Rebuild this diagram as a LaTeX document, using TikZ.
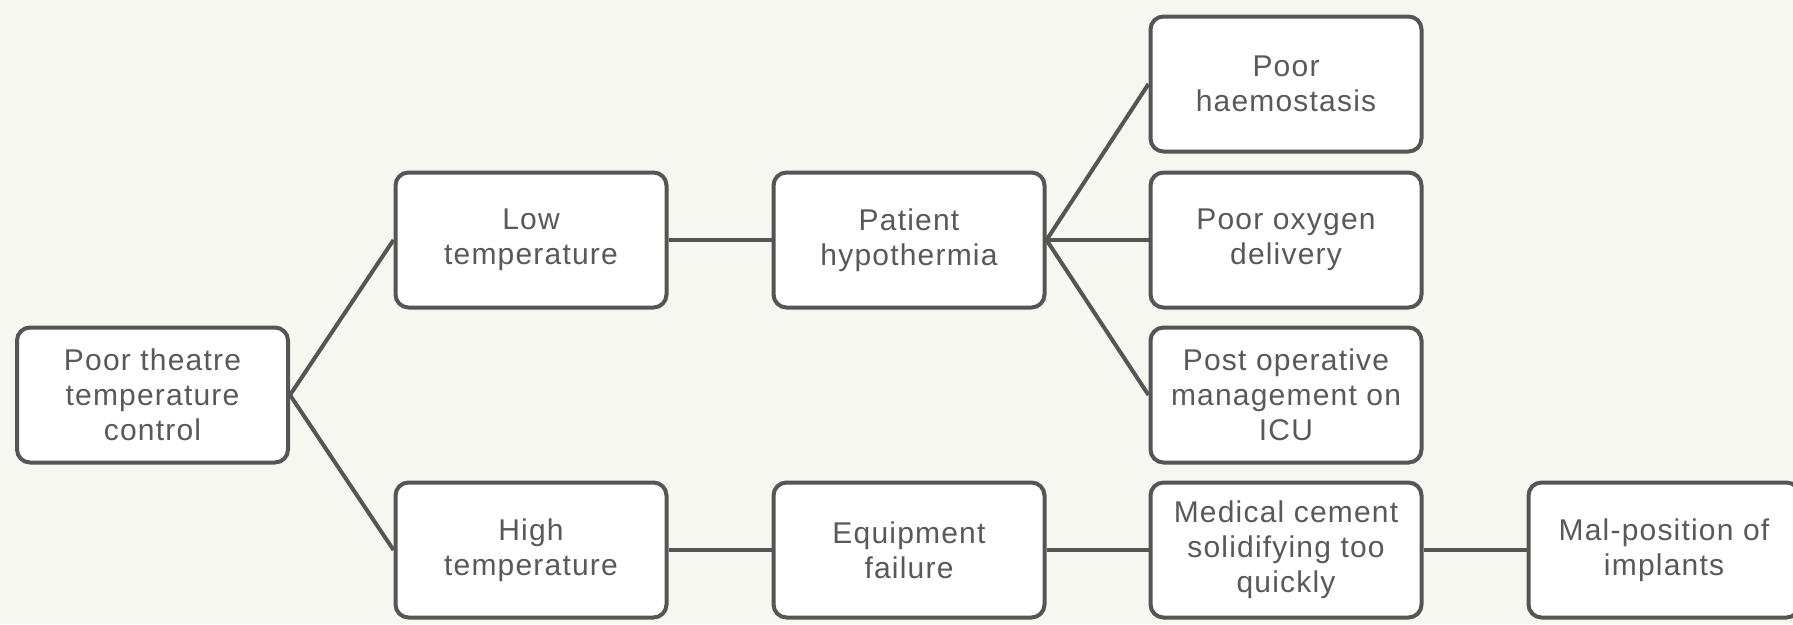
\documentclass[tikz,border=0pt]{standalone}
\usepackage{fontspec}
\setmainfont[LetterSpace=4]{Liberation Sans}
\definecolor{bg}{HTML}{F7F7F2}
\definecolor{edge}{HTML}{555555}
\definecolor{txt}{HTML}{595959}
\tikzset{
  box/.style={draw=edge, line width=4pt, fill=white, rounded corners=13pt,
    minimum width=271pt, minimum height=135pt, inner sep=0pt, align=center,
    text=txt, font=\fontsize{30}{35}\selectfont},
  link/.style={draw=edge, line width=4pt}
}
\begin{document}
\begin{tikzpicture}[x=1pt,y=-1pt]
\fill[bg] (0,0) rectangle (1793,624);
\useasboundingbox (0,0) rectangle (1793,624);
\node[box] (root) at (152.5,395) {Poor theatre\\temperature\\control};
\node[box] (low) at (531,240) {Low\\temperature};
\node[box] (high) at (531,550) {High\\temperature};
\node[box] (hypo) at (909,240) {Patient\\hypothermia};
\node[box] (equip) at (909,550) {Equipment\\failure};
\node[box] (haem) at (1286,84) {Poor\\haemostasis};
\node[box] (oxy) at (1286,240) {Poor oxygen\\delivery};
\node[box] (icu) at (1286,395) {Post operative\\management on\\ICU};
\node[box] (cement) at (1286,550) {Medical cement\\solidifying too\\quickly};
\node[box] (mal) at (1664,550) {Mal-position of\\implants};
\draw[link] (root.east) -- (low.west);
\draw[link] (root.east) -- (high.west);
\draw[link] (low.east) -- (hypo.west);
\draw[link] (high.east) -- (equip.west);
\draw[link] (hypo.east) -- (haem.west);
\draw[link] (hypo.east) -- (oxy.west);
\draw[link] (hypo.east) -- (icu.west);
\draw[link] (equip.east) -- (cement.west);
\draw[link] (cement.east) -- (mal.west);
\end{tikzpicture}
\end{document}
